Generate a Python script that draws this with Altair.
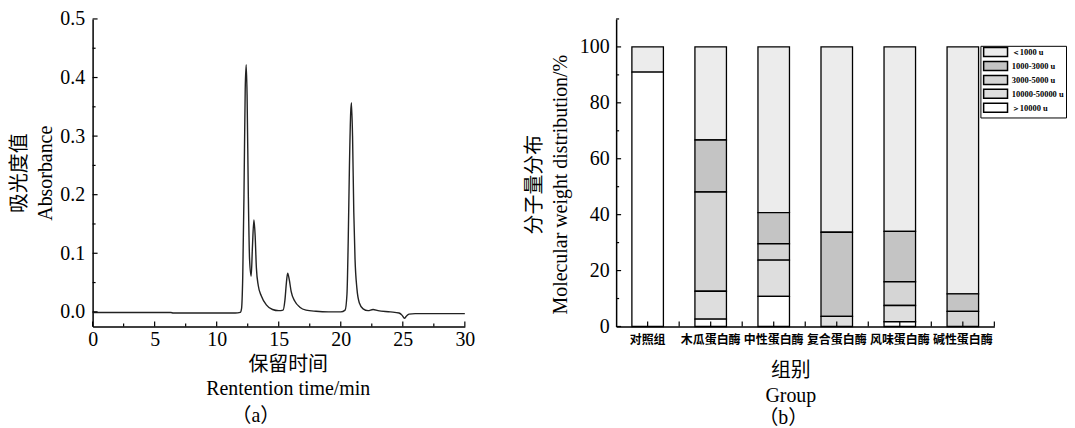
import altair as alt
import pandas as pd

# ---------------- Panel (a): chromatogram ----------------
time_min = [0, 3.0, 6.3, 6.5, 9.0, 11.5, 11.9, 12.0, 12.1, 12.2, 12.3, 12.38, 12.45,
            12.55, 12.65, 12.78, 12.88, 13.0, 13.1, 13.2, 13.35, 13.6, 14.0, 14.5,
            15.0, 15.35, 15.5, 15.62, 15.72, 15.85, 16.0, 16.3, 16.7, 17.2, 18.0,
            19.0, 20.0, 20.35, 20.5, 20.6, 20.7, 20.8, 20.86, 20.95, 21.05, 21.15,
            21.3, 21.5, 21.8, 22.2, 22.6, 23.0, 24.0, 24.7, 24.95, 25.13, 25.3,
            25.5, 26.0, 28.0, 30.0]
absorbance = [-0.001, -0.001, -0.001, -0.002, -0.002, -0.002, -0.001, 0.005, 0.06,
              0.20, 0.38, 0.422, 0.37, 0.20, 0.09, 0.061, 0.11, 0.157, 0.13, 0.075,
              0.045, 0.027, 0.012, 0.004, 0.002, 0.003, 0.02, 0.05, 0.066, 0.055,
              0.035, 0.018, 0.008, 0.003, 0.001, 0.0, 0.0, 0.003, 0.03, 0.12, 0.25,
              0.34, 0.357, 0.30, 0.17, 0.09, 0.04, 0.015, 0.005, 0.002, 0.004, 0.002,
              0.0, -0.002, -0.006, -0.011, -0.007, -0.004, -0.003, -0.003, -0.003]

x_major_a = [0, 5, 10, 15, 20, 25, 30]
x_minor_a = [2.5, 7.5, 12.5, 17.5, 22.5, 27.5]
y_major_a = [0.0, 0.1, 0.2, 0.3, 0.4, 0.5]
y_minor_a = [0.05, 0.15, 0.25, 0.35, 0.45]

# ---------------- Panel (b): stacked distribution ----------------
groups = ["对照组", "木瓜蛋白酶", "中性蛋白酶", "复合蛋白酶", "风味蛋白酶", "碱性蛋白酶"]
series_names = ["＜1000 u", "1000-3000 u", "3000-5000 u", "10000-50000 u", "＞10000 u"]
lt_1000 = [9.0, 33.3, 59.3, 66.3, 66.0, 88.3]
r_1000_3000 = [0, 18.6, 11.1, 30.1, 18.0, 6.3]
r_3000_5000 = [0, 35.5, 5.9, 0, 8.5, 5.4]
r_10000_50000 = [0, 10.0, 12.9, 3.6, 5.8, 0]
gt_10000 = [91.0, 2.6, 10.8, 0, 1.7, 0]
y_major_b = [0, 20, 40, 60, 80, 100]
y_minor_b = [10, 30, 50, 70, 90, 110]

series_values = [lt_1000, r_1000_3000, r_3000_5000, r_10000_50000, gt_10000]
series_fill = ["#ececec", "#c4c4c4", "#d5d5d5", "#dedede", "#ffffff"]

FONT = "Liberation Serif, Noto Sans CJK SC"
CJK = "Noto Sans CJK SC"

df_a = pd.DataFrame({"t": time_min, "a": absorbance})
rows = []
for si, (name, vals) in enumerate(zip(series_names, series_values)):
    for g, v in zip(groups, vals):
        if v > 0:
            rows.append({"group": g, "series": name, "value": v, "idx": len(series_names) - si})
df_b = pd.DataFrame(rows)

W_A, H_A = 374, 309
W_B, H_B = 380, 309

xs_a = alt.Scale(domain=[0, 30], nice=False)
ys_a = alt.Scale(domain=[-0.025, 0.5], nice=False)

axis_base = dict(domainColor="black", domainWidth=1.5, ticks=False, tickSize=0, grid=False,
                 labelFont=FONT, labelFontSize=20, labelColor="black",
                 titleFont=FONT, titleFontSize=20, titleFontWeight="normal", titleColor="black")

line = alt.Chart(df_a).mark_line(color="#222222", strokeWidth=1.4, interpolate="monotone").encode(
    x=alt.X("t:Q", scale=xs_a,
            axis=alt.Axis(values=x_major_a, format="d", title=["保留时间", "Rentention time/min"],
                          labelPadding=3, titlePadding=5, titleLineHeight=24, titleX=196,
                          labelFlush=False, **axis_base)),
    y=alt.Y("a:Q", scale=ys_a,
            axis=alt.Axis(values=y_major_a, format=".1f", title=["吸光度值", "Absorbance"],
                          labelPadding=8, titlePadding=4, titleLineHeight=26,
                          labelFlush=False, **axis_base)),
)

TICK = dict(color="black", strokeWidth=1.2)

def ticks_x(values, length):
    return alt.Chart(pd.DataFrame({"t": values})).mark_rule(**TICK).encode(
        x=alt.X("t:Q"), y=alt.value(H_A), y2=alt.value(H_A - length))

def ticks_y(values, length):
    return alt.Chart(pd.DataFrame({"a": values})).mark_rule(**TICK).encode(
        y=alt.Y("a:Q"), x=alt.value(0), x2=alt.value(length))

panel_a = alt.layer(
    line,
    ticks_x(x_major_a, 5),
    ticks_x(x_minor_a, 3),
    ticks_y(y_major_a, 5),
    ticks_y(y_minor_a, 3),
).properties(
    width=W_A, height=H_A,
    title=alt.TitleParams("（a）", orient="bottom", anchor="middle", frame="group", dx=-23,
                          offset=8, font=FONT, fontSize=20, fontWeight="normal", color="black"),
)

ys_b = alt.Scale(domain=[0, 110], nice=False)
xs_b = alt.Scale(domain=groups, paddingInner=0.5, paddingOuter=0.25)

bars = alt.Chart(df_b).mark_bar(stroke="black", strokeWidth=1.3).encode(
    x=alt.X("group:N", sort=groups, scale=xs_b,
            axis=alt.Axis(title=["组别", "Group"], labelAngle=0, labelFont=CJK, labelFontSize=12,
                          labelFontWeight="bold", labelPadding=8, titlePadding=15,
                          titleLineHeight=25, titleX=175,
                          **{k: v for k, v in axis_base.items() if k not in ("labelFont", "labelFontSize")})),
    y=alt.Y("value:Q", stack="zero", scale=ys_b,
            axis=alt.Axis(values=y_major_b, title=["分子量分布", "Molecular weight distribution/%"],
                          labelPadding=7, titlePadding=9, titleLineHeight=26, titleY=166,
                          **axis_base)),
    color=alt.Color("series:N", scale=alt.Scale(domain=series_names, range=series_fill),
                    legend=alt.Legend(orient="none", legendX=892, legendY=27, title=None,
                                      symbolType="M-4,-1.5H4V1.5H-4Z", symbolSize=36,
                                      symbolStrokeColor="black", symbolStrokeWidth=1.5,
                                      symbolOffset=9, labelOffset=12,
                                      labelFont="Liberation Serif", labelFontWeight="bold",
                                      labelFontSize=8.5, labelColor="black",
                                      strokeColor="black", padding=2, rowPadding=-2)),
    order=alt.Order("idx:Q", sort="ascending"),
)

tick_df_b = pd.DataFrame({"group": groups})
bx_major = alt.Chart(tick_df_b).mark_rule(**TICK).encode(
    x=alt.X("group:N", sort=groups), y=alt.value(H_B), y2=alt.value(H_B - 5))
bx_minor = alt.Chart(tick_df_b).mark_rule(xOffset=W_B / 12, **TICK).encode(
    x=alt.X("group:N", sort=groups), y=alt.value(H_B), y2=alt.value(H_B - 5))
by_major = alt.Chart(pd.DataFrame({"value": y_major_b})).mark_rule(**TICK).encode(
    y=alt.Y("value:Q"), x=alt.value(0), x2=alt.value(5))
by_minor = alt.Chart(pd.DataFrame({"value": y_minor_b})).mark_rule(**TICK).encode(
    y=alt.Y("value:Q"), x=alt.value(0), x2=alt.value(3))

panel_b = alt.layer(bars, bx_major, bx_minor, by_major, by_minor).properties(
    width=W_B, height=H_B,
    title=alt.TitleParams("（b）", orient="bottom", anchor="middle", frame="group", dx=-22,
                          offset=3, font=FONT, fontSize=20, fontWeight="normal", color="black"),
)

chart = alt.hconcat(panel_a, panel_b, spacing=152, bounds="flush").properties(
    padding={"left": 2, "top": 0, "right": 0, "bottom": 0}
).configure(background="white").configure_view(strokeWidth=0, stroke="transparent")

chart.save("out.html", embed_options={"renderer": "svg", "actions": False})
